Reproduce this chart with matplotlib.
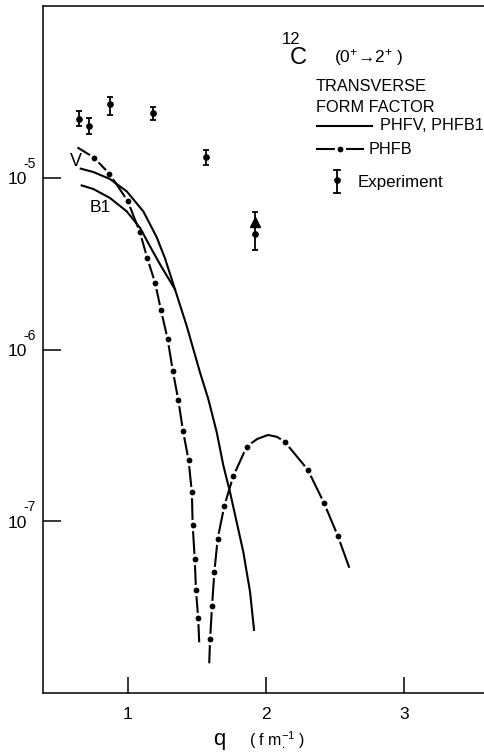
import matplotlib
matplotlib.use('Agg')
import matplotlib.pyplot as plt
from matplotlib.lines import Line2D
from matplotlib.ticker import NullLocator
from matplotlib.transforms import blended_transform_factory, offset_copy

plt.rcParams['font.family'] = ['Liberation Sans', 'DejaVu Sans']
plt.rcParams['mathtext.fontset'] = 'custom'
plt.rcParams['mathtext.rm'] = 'Liberation Sans'
plt.rcParams['mathtext.it'] = 'Liberation Sans:italic'
plt.rcParams['mathtext.bf'] = 'Liberation Sans:bold'
plt.rcParams['mathtext.default'] = 'regular'

# ---------------- data ----------------
# PHFV (solid)
v_q = [0.660, 0.751, 0.872, 0.993, 1.113, 1.210, 1.270, 1.342, 1.427, 1.523,
       1.583, 1.644, 1.692, 1.740, 1.836, 1.885, 1.914]
v_val = [1.13e-5, 1.08e-5, 9.83e-6, 8.33e-6, 6.37e-6, 4.50e-6, 3.39e-6, 2.24e-6,
         1.37e-6, 7.35e-7, 5.15e-7, 3.30e-7, 2.11e-7, 1.48e-7, 6.65e-8, 3.89e-8, 2.33e-8]
# PHFB1 (solid, merges with PHFV)
b1_q = [0.667, 0.751, 0.872, 0.993, 1.089, 1.161, 1.234, 1.342]
b1_val = [9.02e-6, 8.60e-6, 7.62e-6, 6.37e-6, 5.11e-6, 3.99e-6, 3.13e-6, 2.24e-6]
# PHFB (dash-dot), two branches around the diffraction minimum
phfb1_q = [0.643, 0.756, 0.867, 0.999, 1.089, 1.140, 1.198, 1.241, 1.289, 1.326,
           1.366, 1.400, 1.440, 1.464, 1.470, 1.485, 1.494, 1.510, 1.517]
phfb1_val = [1.49e-5, 1.31e-5, 1.055e-5, 7.35e-6, 4.80e-6, 3.43e-6, 2.45e-6, 1.69e-6,
             1.15e-6, 7.52e-7, 5.08e-7, 3.36e-7, 2.28e-7, 1.48e-7, 9.55e-8, 6.01e-8,
             3.97e-8, 2.72e-8, 2.00e-8]
phfb1_marks = list(range(1, 18))
phfb2_q = [1.590, 1.596, 1.610, 1.627, 1.651, 1.699, 1.764, 1.861, 1.936, 2.015,
           2.080, 2.135, 2.302, 2.420, 2.520, 2.601]
phfb2_val = [1.51e-8, 2.06e-8, 3.19e-8, 5.08e-8, 7.92e-8, 1.23e-7, 1.83e-7, 2.72e-7,
             3.01e-7, 3.18e-7, 3.10e-7, 2.91e-7, 2.00e-7, 1.28e-7, 8.22e-8, 5.43e-8]
phfb2_marks = [1, 2, 3, 4, 5, 6, 7, 11, 12, 13, 14]
# Experiment
exp_q = [0.649, 0.720, 0.870, 1.180, 1.567, 1.921]
exp_val = [2.20e-5, 2.00e-5, 2.68e-5, 2.38e-5, 1.32e-5, 4.71e-6]
exp_lo = [1.99e-5, 1.80e-5, 2.32e-5, 2.17e-5, 1.19e-5, 3.82e-6]
exp_hi = [2.45e-5, 2.24e-5, 2.97e-5, 2.58e-5, 1.46e-5, 6.35e-6]
tri_q = [1.921]
tri_val = [5.52e-6]

x_ticks = [1, 2, 3]
x_tick_labels = ['1', '2', '3']
y_ticks = [1e-7, 1e-6, 1e-5]
y_tick_bases = ['10', '10', '10']
y_tick_exps = ['-7', '-6', '-5']

# ---------------- figure ----------------
W, H = 484, 755
fig = plt.figure(figsize=(W / 100, H / 100), dpi=100)
fig.patch.set_facecolor('white')


def fx(x):
    return x / W


def fy(y):
    return 1 - y / H


AX_L, AX_R = 43, 484
ax = fig.add_axes([fx(AX_L), fy(693), fx(AX_R) - fx(AX_L), fy(6) - fy(693)])
ax.set_yscale('log')
ax.set_xlim(0.387, 3.578)
ax.set_ylim(1e-8, 1e-4)

lw = 1.5
dot_kw = dict(marker='o', ms=6.2, mfc='k', mec='white', mew=2.0)
ax.plot(phfb1_q, phfb1_val, color='k', lw=lw, markevery=phfb1_marks, zorder=2, **dot_kw)
ax.plot(phfb2_q, phfb2_val, color='k', lw=lw, markevery=phfb2_marks, zorder=2, **dot_kw)
ax.plot(v_q, v_val, color='k', lw=lw, zorder=3)
ax.plot(b1_q, b1_val, color='k', lw=lw, zorder=3)

yerr = [[v - lo for v, lo in zip(exp_val, exp_lo)],
        [hi - v for v, hi in zip(exp_val, exp_hi)]]
ax.errorbar(exp_q, exp_val, yerr=yerr, fmt='o', color='k', ms=3.8,
            elinewidth=1.3, capsize=2.4, capthick=1.3, zorder=4)
ax.plot(tri_q, tri_val, marker='^', ms=7.5, color='k', ls='none', zorder=4)

ax.set_xticks(x_ticks)
ax.set_xticklabels(x_tick_labels)
ax.set_yticks(y_ticks)
ax.set_yticklabels([])
ax.yaxis.set_minor_locator(NullLocator())
ax.xaxis.set_minor_locator(NullLocator())
ax.tick_params(axis='x', direction='in', length=11.5, width=1.1, pad=10,
               labelsize=12.5, top=False)
ax.tick_params(axis='y', direction='in', length=13, width=1.1, right=False)
for s in ['left', 'top', 'bottom']:
    ax.spines[s].set_linewidth(1.1)
ax.spines['right'].set_visible(False)

# y tick labels "10" with raised exponent
ytrans = blended_transform_factory(ax.transAxes, ax.transData)
base_x = (27 - AX_L) / (AX_R - AX_L)
exp_x = (23.5 - AX_L) / (AX_R - AX_L)
for v, b, e in zip(y_ticks, y_tick_bases, y_tick_exps):
    ax.text(base_x, v, b, fontsize=12.5, ha='right', va='center',
            transform=offset_copy(ytrans, fig=fig, x=0, y=-2, units='dots'))
    ax.text(exp_x, v, e, fontsize=10, ha='left', va='center',
            transform=offset_copy(ytrans, fig=fig, x=0, y=14, units='dots'))

# curve labels
ax.text(0.626, 1.245e-5, 'V', fontsize=13, ha='center', va='center')
ax.text(0.80, 6.74e-6, 'B1', fontsize=12.5, ha='center', va='center')

# title block
fig.text(fx(281.5), fy(43.5), '12', fontsize=12, ha='left', va='baseline')
fig.text(fx(290), fy(63.5), 'C', fontsize=17, ha='left', va='baseline')
fig.text(fx(334), fy(62.5), '(0$^{+}$→2$^{+}$ )', fontsize=12.5, ha='left', va='baseline')
fig.text(fx(316), fy(91), 'TRANSVERSE', fontsize=11.7, ha='left', va='baseline')
fig.text(fx(316), fy(111.5), 'FORM FACTOR', fontsize=11.7, ha='left', va='baseline')

# legend
fig.add_artist(Line2D([fx(316.7), fx(371.7)], [fy(126), fy(126)], color='k', lw=lw))
fig.text(fx(380), fy(125.5), 'PHFV, PHFB1', fontsize=11.7, ha='left', va='center')
fig.add_artist(Line2D([fx(316.7), fx(363.3)], [fy(149.3), fy(149.3)], color='k', lw=lw))
fig.add_artist(Line2D([fx(340)], [fy(149.3)], color='k', **dot_kw))
fig.text(fx(368.3), fy(149), 'PHFB', fontsize=11.7, ha='left', va='center')
fig.add_artist(Line2D([fx(337), fx(337)], [fy(170), fy(193)], color='k', lw=1.3))
fig.add_artist(Line2D([fx(333.7), fx(340.3)], [fy(170), fy(170)], color='k', lw=1.3))
fig.add_artist(Line2D([fx(333.7), fx(340.3)], [fy(193), fy(193)], color='k', lw=1.3))
fig.add_artist(Line2D([fx(337)], [fy(180)], marker='o', ms=3.8, color='k'))
fig.text(fx(358), fy(182), 'Experiment', fontsize=12.2, ha='left', va='center')

# x label
fig.text(fx(219), fy(745), 'q', fontsize=16, ha='center', va='baseline')
fig.text(fx(249), fy(745), '( f $m_{\\bullet}^{-1}$ )', fontsize=11.5, ha='left', va='baseline')

fig.savefig('out.png', dpi=100, facecolor='white')
